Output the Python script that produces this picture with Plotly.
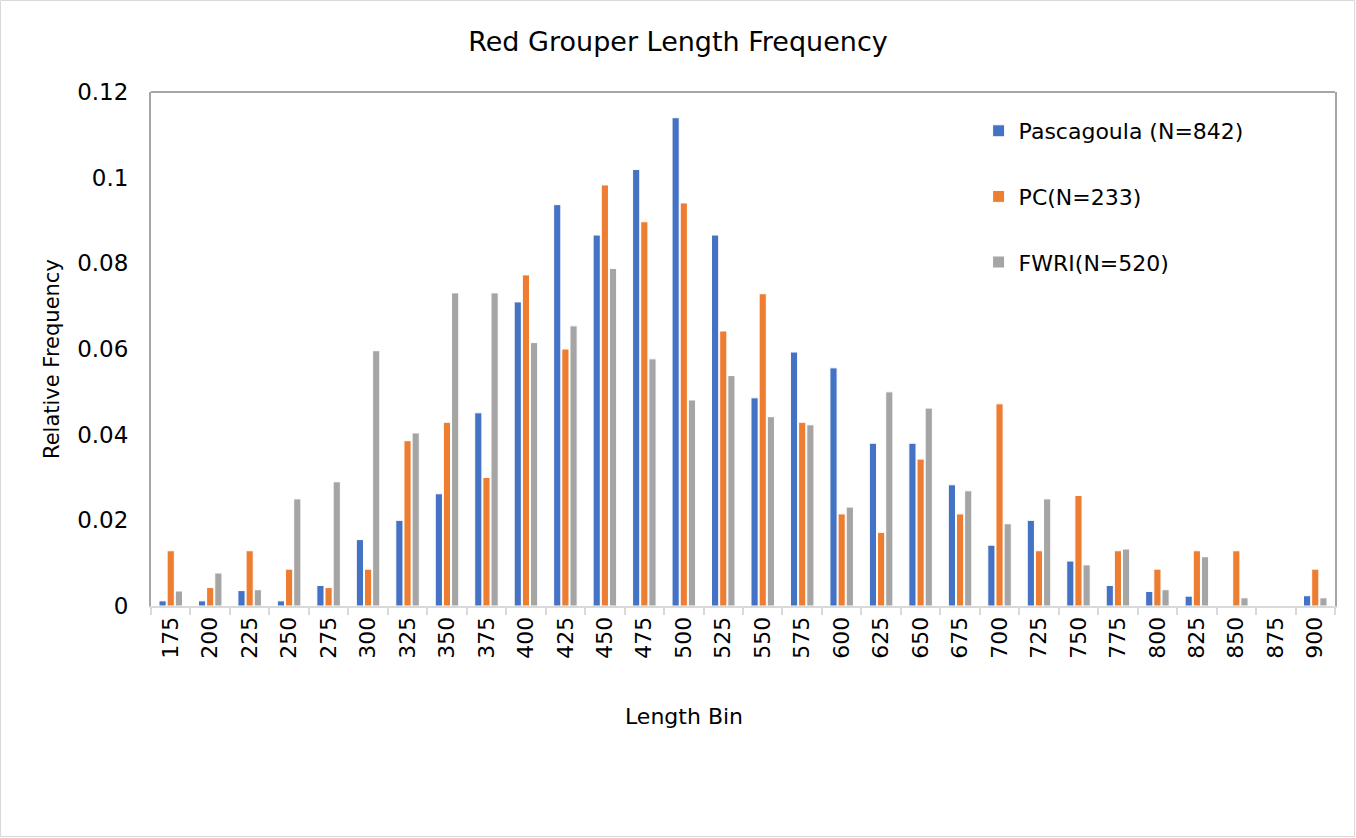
import plotly.graph_objects as go

# Length bins (mm) and relative frequency per source
length_bins = ["175", "200", "225", "250", "275", "300", "325", "350", "375", "400",
               "425", "450", "475", "500", "525", "550", "575", "600", "625", "650",
               "675", "700", "725", "750", "775", "800", "825", "850", "875", "900"]

pascagoula = [0.0012, 0.0012, 0.0036, 0.0012, 0.0048, 0.0155, 0.0200, 0.0262, 0.0451, 0.0710,
              0.0937, 0.0866, 0.1019, 0.1140, 0.0866, 0.0486, 0.0593, 0.0556, 0.0380, 0.0380,
              0.0283, 0.0142, 0.0200, 0.0105, 0.0048, 0.0034, 0.0023, 0.0, 0.0, 0.0024]

pc = [0.0129, 0.0043, 0.0129, 0.0086, 0.0043, 0.0086, 0.0386, 0.0429, 0.0300, 0.0773,
      0.0600, 0.0983, 0.0897, 0.0941, 0.0642, 0.0729, 0.0429, 0.0215, 0.0172, 0.0343,
      0.0215, 0.0472, 0.0129, 0.0258, 0.0129, 0.0086, 0.0129, 0.0129, 0.0, 0.0086]

fwri = [0.0035, 0.0077, 0.0038, 0.0250, 0.0290, 0.0596, 0.0404, 0.0731, 0.0731, 0.0615,
        0.0654, 0.0788, 0.0577, 0.0481, 0.0538, 0.0442, 0.0423, 0.0231, 0.0500, 0.0462,
        0.0269, 0.0192, 0.0250, 0.0096, 0.0133, 0.0038, 0.0115, 0.0019, 0.0, 0.0019]

series = [
    ("Pascagoula (N=842)", pascagoula, "#4472C4"),
    ("PC(N=233)", pc, "#ED7D31"),
    ("FWRI(N=520)", fwri, "#A5A5A5"),
]

FONT = "'DejaVu Sans', Verdana, sans-serif"
W, H = 1356, 838
L, R, T, B = 151, 21, 92, 232
PW, PH = W - L - R, H - T - B

fig = go.Figure()
for name, vals, color in series:
    fig.add_trace(go.Bar(
        x=length_bins, y=vals, name=name, legendgroup=name,
        marker=dict(color=color, line=dict(color="white", width=1)),
    ))

# outer light frame around the whole chart
fig.add_shape(type="rect", xref="paper", yref="paper",
              x0=-L / PW + 0.5 / PW, x1=(W - L - 1.5) / PW,
              y0=-(B - 1.5) / PH, y1=(H - B - 0.5) / PH,
              line=dict(color="#D9D9D9", width=1), layer="below")
# top edge of plot area
fig.add_shape(type="line", xref="paper", yref="paper", x0=0, x1=1, y0=1, y1=1,
              line=dict(color="#A6A6A6", width=2))

# axis titles placed as annotations (pixel-based positions converted to paper units)
fig.add_annotation(text="Length Bin", xref="paper", yref="paper",
                   x=(684 - L) / PW, y=-(716 - (T + PH)) / PH,
                   xanchor="center", yanchor="middle", showarrow=False,
                   font=dict(size=22, family=FONT))
fig.add_annotation(text="Relative Frequency", xref="paper", yref="paper",
                   x=-(L - 52) / PW, y=1 - (359 - T) / PH, textangle=-90,
                   xanchor="center", yanchor="middle", showarrow=False,
                   font=dict(size=21, family=FONT))

fig.update_layout(
    width=W, height=H,
    margin=dict(l=L, r=R, t=T, b=B),
    paper_bgcolor="white", plot_bgcolor="white",
    font=dict(family=FONT, color="#000000"),
    title=dict(text="Red Grouper Length Frequency", x=0.5, xanchor="center",
               y=1 - 42 / H, yanchor="middle", font=dict(size=27, family=FONT)),
    barmode="group", bargap=0.38, bargroupgap=0.12,
    showlegend=True,
    legend=dict(x=0.699, y=0.965, xanchor="left", yanchor="top",
                font=dict(size=22, family=FONT), tracegroupgap=34,
                bgcolor="rgba(0,0,0,0)"),
    xaxis=dict(
        type="category", tickangle=-90, tickson="boundaries",
        ticks="outside", ticklen=7, tickcolor="#D9D9D9", tickwidth=2,
        showline=True, linecolor="#D9D9D9", linewidth=2,
        tickfont=dict(size=22, family=FONT), ticklabelstandoff=0,
        showgrid=False,
    ),
    yaxis=dict(
        range=[0, 0.12], dtick=0.02, tick0=0,
        showline=True, mirror=True, linecolor="#A6A6A6", linewidth=2,
        showgrid=False, zeroline=False, ticks="",
        tickfont=dict(size=23, family=FONT), ticklabelstandoff=16,
    ),
)

fig.write_html("out.html")
